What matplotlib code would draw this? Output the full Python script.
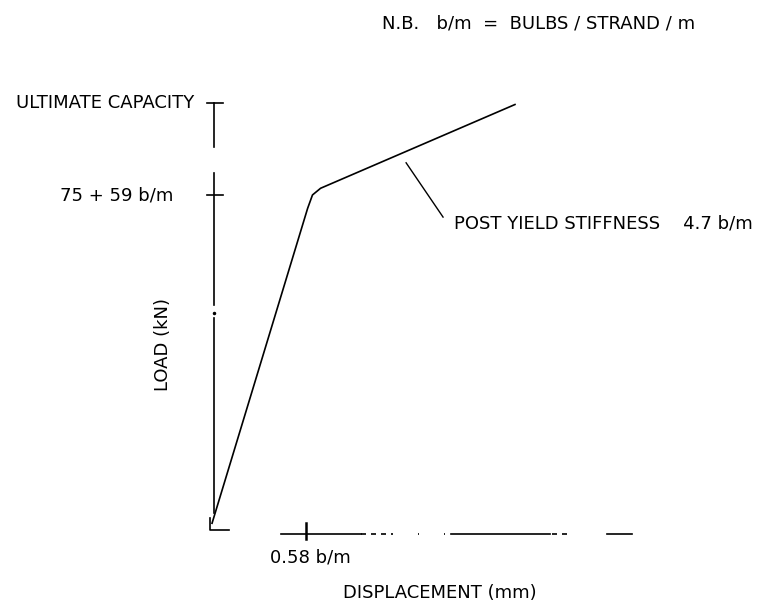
import matplotlib.pyplot as plt

# load-displacement curve (displacement normalised so the yield tick is 0.58,
# load normalised so the yield load is 1.0)
disp = [0.0, 0.59, 0.62, 0.67, 1.87]
load = [0.02, 0.96, 1.0, 1.02, 1.27]

# level / position of the annotated ticks
ult_load = 1.275
yield_load = 1.0
yield_disp = 0.58

# the axes were hand drawn with gaps in them
y_axis_segments = [(1.275, 1.143), (1.066, 0.672), (0.633, 0.05)]
x_axis_segments = [(0.426, 0.92), (1.475, 2.086), (2.44, 2.59)]
x_axis_dashes = [(0.92, 1.12), (1.27, 1.28), (1.43, 1.44), (2.10, 2.19)]

fig = plt.figure(figsize=(7.62, 6.06), dpi=100)
ax = fig.add_axes([0, 0, 1, 1])
ax.set_xlim(-1.309, 3.395)
ax.set_ylim(-0.227, 1.582)
ax.axis("off")

lw = 1.2

# curve
ax.plot(disp, load, color="black", lw=lw)

# y axis
yx = 0.012
for top, bot in y_axis_segments:
    ax.plot([yx, yx], [top, bot], color="black", lw=lw)
ax.plot([yx], [0.648], marker="o", ms=1.5, color="black")
ax.plot([-0.03, 0.068], [ult_load, ult_load], color="black", lw=lw)
ax.plot([-0.03, 0.068], [yield_load, yield_load], color="black", lw=lw)

# origin corner
ax.plot([-0.012, -0.012, 0.105], [0.036, 0.0, 0.0], color="black", lw=lw)

# x axis
xy = -0.012
for a, b in x_axis_segments:
    ax.plot([a, b], [xy, xy], color="black", lw=lw)
for a, b in x_axis_dashes:
    ax.plot([a, b], [xy, xy], color="black", lw=lw, ls=(0, (3, 3)))
ax.plot([yield_disp, yield_disp], [0.021, -0.027], color="black", lw=1.8)

# leader for post yield stiffness
ax.plot([1.198, 1.426], [1.096, 0.934], color="black", lw=1.0)

# labels (positions in pixels of the original sketch)
kw = dict(color="black", family="DejaVu Sans", va="center", transform=ax.transAxes)


def px(x, y):
    return x / 762, 1 - y / 606


ax.text(*px(382, 23), "N.B.   b/m  =  BULBS / STRAND / m", fontsize=13, **kw)
ax.text(*px(16, 103), "ULTIMATE CAPACITY", fontsize=13, **kw)
ax.text(*px(60, 195), "75 + 59 b/m", fontsize=13, **kw)
ax.text(*px(163, 345), "LOAD (kN)", fontsize=13, rotation=90, ha="center", **kw)
ax.text(*px(454, 224), "POST YIELD STIFFNESS    4.7 b/m", fontsize=13, **kw)
ax.text(*px(270, 557), "0.58 b/m", fontsize=13, **kw)
ax.text(*px(343, 593), "DISPLACEMENT (mm)", fontsize=13, **kw)

fig.savefig("out.png", dpi=100)
